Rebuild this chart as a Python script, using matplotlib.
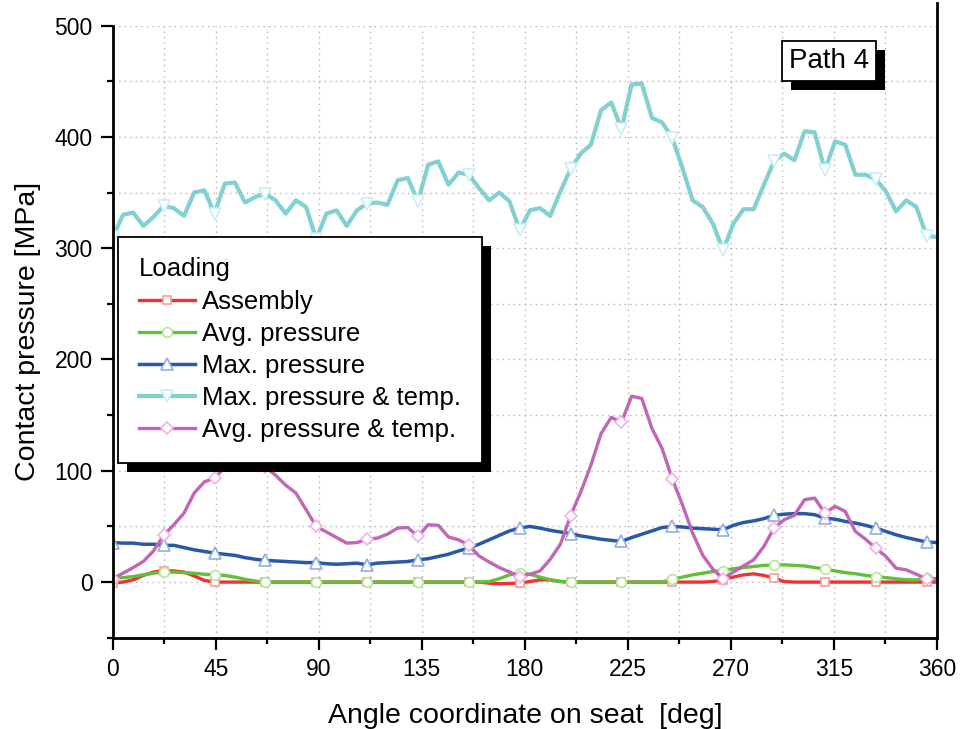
#%%
# contact pressure along the seat, path 4
import numpy as np
import matplotlib
matplotlib.use('Agg')
import matplotlib.pyplot as plt
import matplotlib.patheffects as pe
from matplotlib.ticker import MultipleLocator

plt.rcParams['font.family'] = ['Liberation Sans', 'DejaVu Sans']

#%%
# angle positions (deg), 82 samples over the full circle
angle = np.linspace(0, 360, 82)

assembly = [-1, 0, 2, 6, 9, 10.4, 10, 9, 5.5, 1.5,
            0, 0, 0, 0, 0, 0, 0, 0, 0, 0,
            0, 0, 0, 0, 0, 0, 0, 0, 0, 0,
            0, 0, 0, 0, 0, 0, 0, -1, -1.5, -1.2,
            -1, 0.5, 2, 2, 0.5, 0, 0, 0, 0, 0,
            0, 0, 0, 0, 0, 0, 0, 0, 0, 0.5,
            2, 4.5, 6.5, 7.4, 6, 3.6, 0.5, 0, 0, 0,
            0, 0, 0, 0, 0, 0, 0, 0, 0, 0,
            0, 0]
avg_p = [3, 4, 5, 6.5, 8, 9, 9, 8.5, 8, 7,
         6.6, 6, 4.5, 2.5, 1, 0, 0, 0, 0, 0,
         0, 0, 0, 0, 0, 0, 0, 0, 0, 0,
         0, 0, 0, 0, 0, 0, 0, 0.5, 3, 6.5,
         8.6, 7, 4.5, 2, 0.5, 0, 0, 0, 0, 0,
         0, 0, 0, 0, 0, 2.5, 4.5, 6.5, 8, 9.5,
         10.4, 12, 13, 14, 15, 15.5, 15.5, 15, 14.5, 13,
         11.7, 10, 8.5, 7.5, 6, 5, 4, 3, 2, 2,
         3.5, 3]
max_p = [35.5, 35, 35, 34, 34, 33, 33, 31, 29, 27.5,
         26, 25, 24, 22, 20.5, 19.5, 19, 18.5, 18, 17.5,
         17.5, 16.5, 16, 16.5, 17, 15.5, 17, 17.5, 18, 18.5,
         20, 21, 23, 25, 28, 30.5, 34, 38, 42, 46,
         48.5, 50, 48.5, 46.5, 45, 43.4, 41.5, 40, 38.5, 37.5,
         36.5, 40, 43, 46, 49, 50, 49.5, 48.5, 48, 47.5,
         47, 51, 53.5, 55, 57, 60, 61, 61.5, 61.5, 60.5,
         57.5, 56.5, 54.5, 53, 51, 48.5, 45.5, 42.5, 40, 38,
         36, 35.5]
max_pt = [310, 330, 332, 320, 328, 338, 336, 329, 350, 352,
          331, 358, 359, 341, 346, 349, 343, 331, 343, 337,
          308, 331, 334, 320, 334, 340, 341, 339, 361, 363,
          342, 375, 378, 357, 368, 366, 354, 343, 350, 342,
          316, 334, 336, 329, 351, 371, 385, 393, 424, 431,
          407, 447, 448, 417, 413, 399, 372, 343, 337, 322,
          298, 322, 335, 335, 357, 378, 385, 379, 405, 404,
          370, 396, 393, 366, 366, 362, 351, 333, 343, 337,
          311, 310]
avg_pt = [3, 8, 13, 18.5, 28, 42, 51.5, 62, 80, 90,
          93.5, 103, 108, 110, 108, 103, 96, 87, 80, 65,
          50, 45, 40, 35, 35.5, 38.5, 39.5, 43, 48.5, 49,
          41, 51.5, 51, 40.5, 38, 33, 23.5, 18, 13, 9,
          5, 7, 10, 20.5, 34, 59.5, 81, 105, 133.5, 148,
          143.5, 167, 165, 138, 120, 92.5, 69.5, 44, 24, 11.5,
          2.7, 9, 14.5, 20, 32, 48.5, 56, 60, 74, 75.5,
          62, 68, 63.5, 45.5, 38.5, 30.5, 23, 12.5, 11, 7,
          2.7, 3]

labels = ['Assembly', 'Avg. pressure', 'Max. pressure',
          'Max. pressure & temp.', 'Avg. pressure & temp.']

#%%
fig = plt.figure(figsize=(9.6, 7.29), dpi=100)
ax = fig.add_axes([0.1175, 0.1252, 0.8583, 0.8397])

series = [assembly, avg_p, max_p, max_pt, avg_pt]
colors = ['#f03232', '#62bf3a', '#2a58a8', '#82d0d0', '#c066b4']
edges = ['#ff9a9a', '#b4e896', '#90aee6', '#c8f0f0', '#f2b2ea']
markers = ['s', 'o', '^', 'v', 'D']
sizes = [6, 7, 8, 8, 6.5]
widths = [2.4, 2.4, 2.5, 3.0, 2.4]

for y, c, ec, m, ms, lw, lab in zip(series, colors, edges, markers, sizes, widths, labels):
    ax.plot(angle, y, color=c, lw=lw, marker=m, ms=ms, markevery=5,
            mfc='white', mec=ec, mew=1.2, label=lab)

ax.set_xlim(0, 360)
ax.set_ylim(-50, 500)
ax.xaxis.set_major_locator(MultipleLocator(45))
ax.xaxis.set_minor_locator(MultipleLocator(22.5))
ax.yaxis.set_major_locator(MultipleLocator(100))
ax.yaxis.set_minor_locator(MultipleLocator(50))
ax.grid(which='both', ls=(0, (1, 3)), color='#b4b4b4', lw=1.0)

ax.tick_params(which='major', direction='out', length=8.5, width=1.6,
               labelsize=16.5, pad=6)
ax.tick_params(which='minor', direction='out', length=4.5, width=1.6)
ax.tick_params(top=False, right=False, which='both')

ax.spines['top'].set_visible(False)
for s in ['left', 'bottom', 'right']:
    ax.spines[s].set_linewidth(2.0)
ax.spines['right'].set_bounds(-50, 520)

ax.set_xlabel('Angle coordinate on seat  [deg]', fontsize=20.5, labelpad=16)
ax.set_ylabel('Contact pressure [MPa]', fontsize=20.5, labelpad=10)

#%%
leg = ax.legend(title='Loading', loc='upper left', bbox_to_anchor=(0.0067, 0.655),
                borderaxespad=0, fontsize=18.5, title_fontsize=18.5,
                alignment='left', fancybox=False, framealpha=1, numpoints=1,
                handlelength=2.2, handletextpad=0.26, labelspacing=0.32,
                borderpad=0.8, edgecolor='black')
leg.get_frame().set_linewidth(1.3)
leg.get_frame().set_path_effects([pe.SimplePatchShadow(offset=(6.5, -6.5),
                                  shadow_rgbFace='black', alpha=1.0), pe.Normal()])

txt = ax.text(0.869, 0.942, 'Path 4', transform=ax.transAxes, fontsize=20,
              ha='center', va='center',
              bbox=dict(boxstyle='square,pad=0.25', fc='white', ec='black', lw=1.3))
txt.get_bbox_patch().set_path_effects([pe.SimplePatchShadow(offset=(6.5, -6.5),
                                       shadow_rgbFace='black', alpha=1.0), pe.Normal()])

fig.savefig('out.png', dpi=100)
